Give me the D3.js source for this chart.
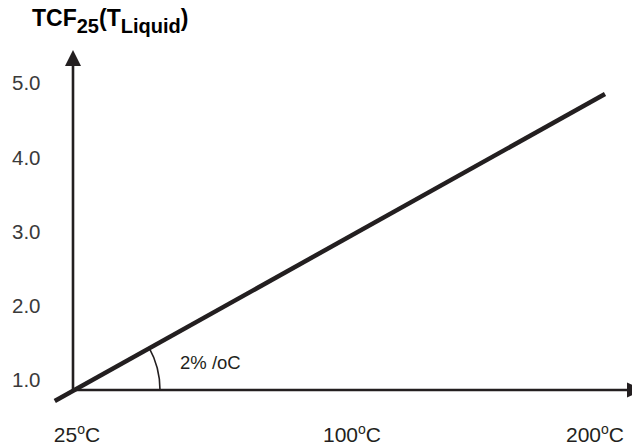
<!DOCTYPE html>
<html>
<head>
<meta charset="utf-8">
<script src="https://cdn.jsdelivr.net/npm/d3@7"></script>
<style>
  html, body { margin: 0; padding: 0; background: #fff; }
  svg { display: block; }
  text { font-family: "Liberation Sans", Arial, Helvetica, sans-serif; }
</style>
</head>
<body>
<script>
// ---- data ----
const lineTemps = [19, 200];          // °C (line start slightly below origin, end at 200 °C)
const lineTCF = [0.87, 4.5];          // TCF25 values along the line
const yTickLabels = ["1.0", "2.0", "3.0", "4.0", "5.0"];
const yTickValues = [1, 2, 3, 4, 5];
const xTickValues = [25, 100, 200];
const slopeLabel = "2% /oC";

// ---- layout ----
const W = 632, H = 448;
const originX = 73, originY = 390;
const ink = "#231f20";

const svg = d3.select("body").append("svg").attr("width", W).attr("height", H);

// scales for the line
const x = d3.scaleLinear().domain([25, 200]).range([originX, 605]);
const y = d3.scaleLinear().domain([1, 4.5]).range([originY, 94]);

// label scales (schematic axis)
const yLab = d3.scaleLinear().domain([1, 5]).range([380, 83]);
const xLab = d3.scaleLinear().domain([25, 100, 200]).range([77, 352, 595]);

// axes lines
svg.append("line").attr("x1", originX).attr("y1", originY).attr("x2", originX).attr("y2", 64)
  .attr("stroke", ink).attr("stroke-width", 2.6);
svg.append("path").attr("d", `M${originX},50 L${originX - 8},66 L${originX + 8},66 Z`).attr("fill", ink);

svg.append("line").attr("x1", originX).attr("y1", originY).attr("x2", 630).attr("y2", originY)
  .attr("stroke", ink).attr("stroke-width", 2.6);
svg.append("path").attr("d", `M643,${originY} L627,${originY - 7.5} L627,${originY + 7.5} Z`).attr("fill", ink);

// main line
const pts = lineTemps.map((t, i) => [t, lineTCF[i]]);
svg.append("path").datum(pts)
  .attr("d", d3.line().x(d => x(d[0])).y(d => y(d[1])))
  .attr("stroke", ink).attr("stroke-width", 4.5).attr("fill", "none");

// angle arc
const ang = Math.atan2(y(1) - y(4.5), x(200) - x(25));
svg.append("path")
  .attr("transform", `translate(${originX},${originY})`)
  .attr("d", d3.arc()({ innerRadius: 87, outerRadius: 87, startAngle: Math.PI / 2 - ang, endAngle: Math.PI / 2 }))
  .attr("stroke", ink).attr("stroke-width", 1.6).attr("fill", "none");

svg.append("text").attr("x", 180).attr("y", 369).attr("font-size", 18.5).attr("fill", ink).text(slopeLabel);

// y tick labels
svg.selectAll(".ytl").data(yTickValues).enter().append("text")
  .attr("x", 12).attr("y", d => yLab(d)).attr("dy", "0.36em")
  .attr("font-size", 20.5).attr("fill", "#3a3a3a")
  .text((d, i) => yTickLabels[i]);

// x tick labels
const xt = svg.selectAll(".xtl").data(xTickValues).enter().append("text")
  .attr("x", d => xLab(d)).attr("y", 442).attr("text-anchor", "middle")
  .attr("font-size", 21).attr("fill", ink);
xt.append("tspan").text(d => d);
xt.append("tspan").attr("font-size", 14).attr("dy", -8).text("o");
xt.append("tspan").attr("dy", 8).text("C");

// title
const title = svg.append("text").attr("x", 32).attr("y", 26).attr("font-weight", "bold")
  .attr("font-size", 23).attr("fill", "#000");
title.append("tspan").text("TCF");
title.append("tspan").attr("font-size", 20).attr("dy", 7).text("25");
title.append("tspan").attr("dy", -7).text("(T");
title.append("tspan").attr("font-size", 20).attr("dy", 7).text("Liquid");
title.append("tspan").attr("dy", -7).text(")");
</script>
</body>
</html>
